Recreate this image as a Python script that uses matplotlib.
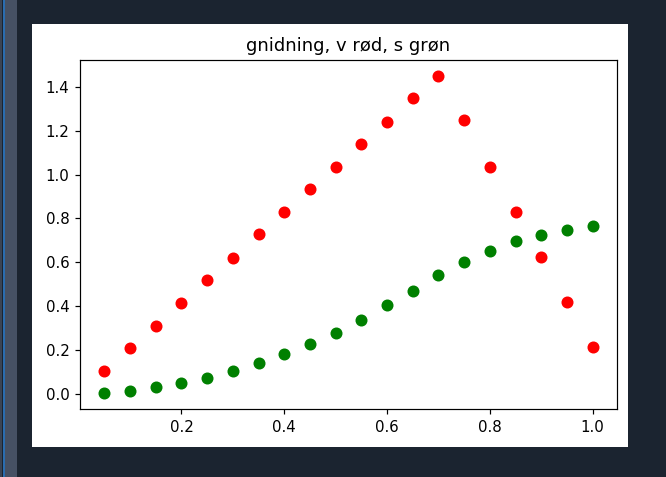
import matplotlib
matplotlib.use('Agg')
import matplotlib.pyplot as plt
from matplotlib.patches import Rectangle

x = [0.05, 0.10, 0.15, 0.20, 0.25, 0.30, 0.35, 0.40, 0.45, 0.50,
     0.55, 0.60, 0.65, 0.70, 0.75, 0.80, 0.85, 0.90, 0.95, 1.00]
v = [0.105, 0.21, 0.31, 0.415, 0.52, 0.62, 0.73, 0.83, 0.935, 1.035,
     1.14, 1.24, 1.35, 1.45, 1.25, 1.035, 0.83, 0.625, 0.42, 0.215]
s = [0.004, 0.016, 0.032, 0.048, 0.074, 0.105, 0.14, 0.184, 0.228, 0.278,
     0.338, 0.405, 0.47, 0.543, 0.603, 0.653, 0.696, 0.726, 0.747, 0.764]

W, H = 666, 477
dpi = 108
fig = plt.figure(figsize=(W/dpi, H/dpi), dpi=dpi)
fig.patch.set_facecolor('#1b2430')

# screenshot frame: sidebar stripe and white canvas, kept behind the axes
frame = [((0, 0), 2, H, '#3a4454'),
         ((3, 0), 2, H, '#2a6db0'),
         ((5, 0), 12, H, '#465164'),
         ((32, H - 447), 596, 423, 'white')]
for (x0, y0), w, h, c in frame:
    fig.patches.append(Rectangle((x0/W, y0/H), w/W, h/H,
                                 transform=fig.transFigure,
                                 facecolor=c, edgecolor='none', zorder=-10))

ax = fig.add_axes([80/W, 1 - 409/H, 537/W, 349/H])
ax.plot(x, v, 'o', color='red', markersize=7)
ax.plot(x, s, 'o', color='green', markersize=7)
ax.set_title('gnidning, v rød, s grøn')

fig.savefig('out.png', dpi=dpi, facecolor=fig.get_facecolor())
